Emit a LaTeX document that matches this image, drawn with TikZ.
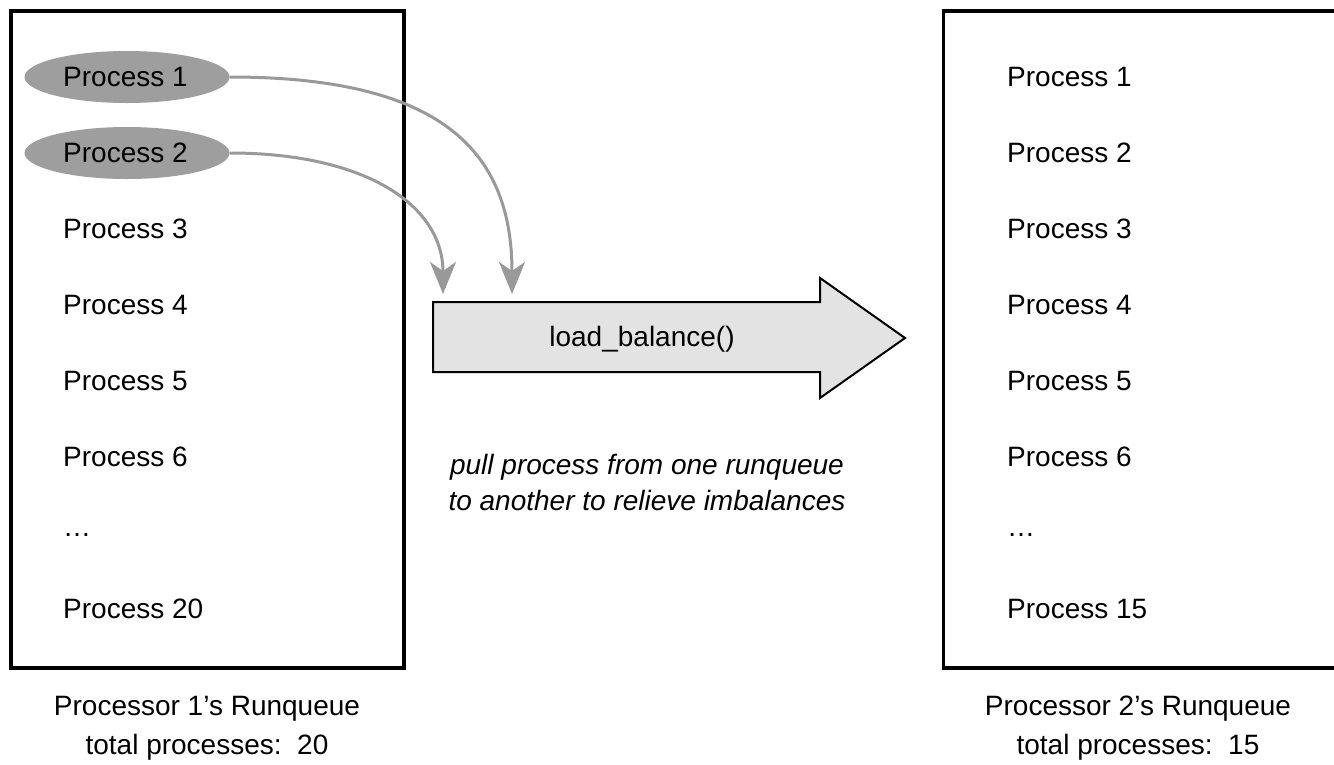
\documentclass[tikz,border=0pt]{standalone}
\usepackage{fontspec}
\setmainfont{Liberation Sans}
\usetikzlibrary{arrows.meta,shapes.geometric}
\definecolor{ellgray}{HTML}{9E9E9E}
\definecolor{arrgray}{HTML}{999999}
\definecolor{bigfill}{HTML}{E3E3E3}
\begin{document}
\begin{tikzpicture}[x=1pt,y=-1pt,
  txt/.style={font=\fontsize{28}{34}\selectfont, inner sep=0pt, anchor=west},
  captext/.style={font=\fontsize{28}{39}\selectfont, align=center, inner sep=0pt},
  queue/.style={draw=black, line width=3.5pt},
  procell/.style={ellipse, fill=ellgray, minimum width=205pt, minimum height=52pt, inner sep=0pt},
  move/.style={draw=arrgray, line width=3pt, -{Stealth[length=32pt,width=26pt,inset=9pt,fill=arrgray]}}
]
\useasboundingbox (0,0) rectangle (1334,764);
\fill[white] (0,0) rectangle (1334,764);
% queues
\node[queue, minimum width=393pt, minimum height=657pt, inner sep=0pt] (q1) at (207.5,339.5) {};
\node[queue, minimum width=393pt, minimum height=657pt, inner sep=0pt] (q2) at (1140,339.5) {};
% ellipses
\node[procell] (e1) at (127,77) {};
\node[procell] (e2) at (127,153) {};
% left texts
\node[txt] (l1) at (63,77) {Process 1};
\node[txt] (l2) at (63,153) {Process 2};
\node[txt] (l3) at (63,229) {Process 3};
\node[txt] (l4) at (63,305) {Process 4};
\node[txt] (l5) at (63,381) {Process 5};
\node[txt] (l6) at (63,457) {Process 6};
\node[txt] (l7) at (63,535) {\dots};
\node[txt] (l20) at (63,609) {Process 20};
% right texts
\node[txt] (r1) at (1007,77) {Process 1};
\node[txt] (r2) at (1007,153) {Process 2};
\node[txt] (r3) at (1007,229) {Process 3};
\node[txt] (r4) at (1007,305) {Process 4};
\node[txt] (r5) at (1007,381) {Process 5};
\node[txt] (r6) at (1007,457) {Process 6};
\node[txt] (r7) at (1007,535) {\dots};
\node[txt] (r15) at (1007,609) {Process 15};
% captions
\node[captext] (c1) at (207,728) {Processor 1's Runqueue\\total processes:\ \ 20};
\node[captext] (c2) at (1138,728) {Processor 2's Runqueue\\total processes:\ \ 15};
% big arrow
\draw[fill=bigfill, line width=2pt, line join=miter]
  (433,302) -- (820,302) -- (820,278) -- (905,338) -- (820,398) -- (820,372) -- (433,372) -- cycle;
\node[font=\fontsize{28}{34}\selectfont, inner sep=0pt] (lb) at (642,339) {load\_balance()};
\node[font=\fontsize{28}{36}\selectfont\itshape, align=center, inner sep=0pt] (note) at (647,482) {pull process from one runqueue\\to another to relieve imbalances};
% targets
\coordinate (t1) at (512,294);
\coordinate (t2) at (443,294);
\draw[move] (e1.east) .. controls (440,77) and (512,150) .. (t1);
\draw[move] (e2.east) .. controls (365,153) and (443,205) .. (t2);
\end{tikzpicture}
\end{document}
